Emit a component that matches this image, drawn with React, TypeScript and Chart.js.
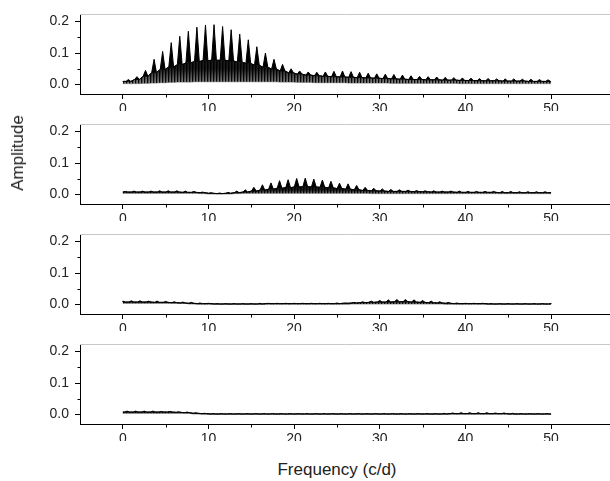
import React, { useEffect, useRef } from "react";
import { Chart, registerables } from "chart.js";

Chart.register(...registerables);

// ---------- data ----------
const FREQ = Array.from({ length: 51 }, (_, k) => k); // alias-comb orders 0..50 (c/d)
const X_TICKS = [0, 10, 20, 30, 40, 50];
const X_MINOR = [5, 15, 25, 35, 45];
const Y_TICKS = [0, 0.1, 0.2];
const Y_MINOR = [0.05, 0.15];
const X_TITLE = "Frequency (c/d)";
const Y_TITLE = "Amplitude";

// Panel 1 (comb peaks near k + 0.65 c/d)
const P1_OFFSET = 0.65;
const P1_PEAK = [0.016, 0.025, 0.045, 0.08, 0.105, 0.133, 0.153, 0.169, 0.182, 0.189, 0.19, 0.184, 0.174, 0.16, 0.142, 0.12, 0.1, 0.08, 0.064, 0.05, 0.043, 0.04, 0.039, 0.04, 0.042, 0.043, 0.041, 0.039, 0.036, 0.034, 0.033, 0.032, 0.03, 0.028, 0.026, 0.025, 0.024, 0.023, 0.022, 0.021, 0.02, 0.019, 0.019, 0.018, 0.018, 0.018, 0.017, 0.017, 0.016, 0.015, 0.014];
const P1_TOP = [0.01, 0.016, 0.026, 0.038, 0.048, 0.056, 0.063, 0.069, 0.073, 0.076, 0.077, 0.077, 0.075, 0.071, 0.067, 0.061, 0.055, 0.049, 0.043, 0.037, 0.033, 0.03, 0.028, 0.026, 0.025, 0.024, 0.023, 0.022, 0.021, 0.02, 0.019, 0.018, 0.017, 0.016, 0.016, 0.015, 0.015, 0.014, 0.014, 0.013, 0.013, 0.012, 0.012, 0.012, 0.011, 0.011, 0.011, 0.01, 0.01, 0.01, 0.009];
const P1_LOW = [0.003, 0.003, 0.004, 0.005, 0.006, 0.007, 0.008, 0.008, 0.009, 0.009, 0.009, 0.009, 0.009, 0.009, 0.009, 0.009, 0.009, 0.009, 0.008, 0.008, 0.007, 0.007, 0.006, 0.006, 0.006, 0.006, 0.005, 0.005, 0.005, 0.005, 0.005, 0.004, 0.004, 0.004, 0.004, 0.004, 0.004, 0.004, 0.004, 0.003, 0.003, 0.003, 0.003, 0.003, 0.003, 0.003, 0.003, 0.003, 0.003, 0.003, 0.003];

// Panel 2 (comb peaks near k + 0.3 c/d)
const P2_OFFSET = 0.3;
const P2_PEAK = [0.01, 0.011, 0.011, 0.011, 0.012, 0.012, 0.012, 0.011, 0.01, 0.008, 0.006, 0.005, 0.007, 0.011, 0.015, 0.023, 0.031, 0.037, 0.044, 0.047, 0.051, 0.052, 0.049, 0.046, 0.042, 0.036, 0.034, 0.029, 0.023, 0.02, 0.018, 0.016, 0.015, 0.014, 0.013, 0.012, 0.012, 0.011, 0.011, 0.011, 0.01, 0.01, 0.01, 0.01, 0.01, 0.01, 0.009, 0.009, 0.009, 0.009, 0.008];
const P2_TOP = [0.008, 0.008, 0.008, 0.008, 0.008, 0.008, 0.008, 0.007, 0.007, 0.006, 0.004, 0.003, 0.004, 0.006, 0.008, 0.011, 0.014, 0.017, 0.02, 0.022, 0.024, 0.025, 0.024, 0.023, 0.021, 0.019, 0.017, 0.015, 0.013, 0.012, 0.011, 0.01, 0.01, 0.01, 0.009, 0.009, 0.008, 0.008, 0.008, 0.007, 0.007, 0.007, 0.007, 0.007, 0.006, 0.006, 0.006, 0.006, 0.006, 0.006, 0.006];
const P2_LOW = [0.004, 0.004, 0.004, 0.004, 0.004, 0.004, 0.004, 0.004, 0.004, 0.003, 0.002, 0.002, 0.002, 0.003, 0.004, 0.004, 0.004, 0.004, 0.004, 0.004, 0.004, 0.004, 0.004, 0.004, 0.004, 0.004, 0.004, 0.004, 0.004, 0.003, 0.003, 0.003, 0.003, 0.003, 0.003, 0.003, 0.003, 0.003, 0.003, 0.003, 0.003, 0.003, 0.003, 0.003, 0.003, 0.003, 0.003, 0.003, 0.003, 0.003, 0.003];

// Panel 3 (comb peaks near k c/d)
const P3_OFFSET = 0;
const P3_PEAK = [0.011, 0.012, 0.012, 0.011, 0.011, 0.01, 0.009, 0.008, 0.007, 0.005, 0.004, 0.003, 0.003, 0.003, 0.003, 0.003, 0.004, 0.004, 0.004, 0.004, 0.004, 0.004, 0.004, 0.004, 0.004, 0.005, 0.005, 0.007, 0.009, 0.011, 0.013, 0.015, 0.016, 0.016, 0.015, 0.013, 0.011, 0.009, 0.007, 0.005, 0.004, 0.004, 0.004, 0.003, 0.003, 0.003, 0.003, 0.003, 0.003, 0.003, 0.003];
const P3_TOP = [0.008, 0.008, 0.008, 0.008, 0.007, 0.007, 0.006, 0.005, 0.004, 0.003, 0.003, 0.002, 0.002, 0.002, 0.002, 0.002, 0.002, 0.003, 0.003, 0.003, 0.003, 0.003, 0.003, 0.003, 0.003, 0.003, 0.004, 0.005, 0.006, 0.007, 0.008, 0.008, 0.009, 0.009, 0.008, 0.007, 0.006, 0.005, 0.004, 0.003, 0.003, 0.003, 0.003, 0.002, 0.002, 0.002, 0.002, 0.002, 0.002, 0.002, 0.002];
const P3_LOW = [0.004, 0.004, 0.004, 0.004, 0.004, 0.004, 0.004, 0.004, 0.002, 0.001, 0.001, 0.001, 0.001, 0.001, 0.001, 0.001, 0.001, 0.001, 0.001, 0.001, 0.001, 0.001, 0.001, 0.001, 0.001, 0.001, 0.001, 0.002, 0.002, 0.002, 0.002, 0.002, 0.002, 0.002, 0.002, 0.002, 0.002, 0.002, 0.001, 0.001, 0.001, 0.001, 0.001, 0.001, 0.001, 0.001, 0.001, 0.001, 0.001, 0.001, 0.001];

// Panel 4 (comb peaks near k + 0.5 c/d)
const P4_OFFSET = 0.5;
const P4_PEAK = [0.011, 0.011, 0.011, 0.011, 0.01, 0.01, 0.009, 0.008, 0.006, 0.004, 0.003, 0.003, 0.003, 0.003, 0.003, 0.003, 0.003, 0.003, 0.003, 0.003, 0.003, 0.003, 0.003, 0.003, 0.003, 0.003, 0.003, 0.003, 0.003, 0.003, 0.003, 0.003, 0.003, 0.003, 0.003, 0.003, 0.003, 0.004, 0.005, 0.006, 0.006, 0.006, 0.006, 0.005, 0.005, 0.004, 0.003, 0.003, 0.003, 0.003, 0.003];
const P4_TOP = [0.008, 0.008, 0.008, 0.008, 0.008, 0.008, 0.007, 0.006, 0.004, 0.003, 0.002, 0.002, 0.002, 0.002, 0.002, 0.002, 0.002, 0.002, 0.002, 0.002, 0.002, 0.002, 0.002, 0.002, 0.002, 0.002, 0.002, 0.002, 0.002, 0.002, 0.002, 0.002, 0.002, 0.002, 0.002, 0.002, 0.002, 0.002, 0.003, 0.003, 0.003, 0.003, 0.003, 0.003, 0.003, 0.002, 0.002, 0.002, 0.002, 0.002, 0.002];
const P4_LOW = [0.004, 0.004, 0.004, 0.004, 0.004, 0.004, 0.004, 0.004, 0.002, 0.001, 0.001, 0.001, 0.001, 0.001, 0.001, 0.001, 0.001, 0.001, 0.001, 0.001, 0.001, 0.001, 0.001, 0.001, 0.001, 0.001, 0.001, 0.001, 0.001, 0.001, 0.001, 0.001, 0.001, 0.001, 0.001, 0.001, 0.001, 0.001, 0.001, 0.001, 0.001, 0.001, 0.001, 0.001, 0.001, 0.001, 0.001, 0.001, 0.001, 0.001, 0.001];

const PANELS = [
  { offset: P1_OFFSET, peak: P1_PEAK, top: P1_TOP, low: P1_LOW },
  { offset: P2_OFFSET, peak: P2_PEAK, top: P2_TOP, low: P2_LOW },
  { offset: P3_OFFSET, peak: P3_PEAK, top: P3_TOP, low: P3_LOW },
  { offset: P4_OFFSET, peak: P4_PEAK, top: P4_TOP, low: P4_LOW },
];

// ---------- styling / layout ----------
const F_MIN = 0;
const F_MAX = 50;
const X_MIN = -5;
const X_MAX = 57;
const Y_MIN = -0.0299;
const Y_MAX = 0.2225;
const SPIKE_HALF_WIDTH = 0.28;
const PANEL_STEP = 110;
const CANVAS_W = 616;
const CANVAS_H = 125;
const FONT = '"Liberation Sans", Arial, Helvetica, sans-serif';

type Pt = { x: number; y: number };

function buildSeries(p: typeof PANELS[number]) {
  const spikes: Pt[] = [];
  const tops: Pt[] = [];
  const lows: Pt[] = [];
  const push = (x: number, pk: number, tp: number, lo: number) => {
    if (x < F_MIN || x > F_MAX) return;
    spikes.push({ x, y: pk });
    tops.push({ x, y: tp });
    lows.push({ x, y: lo });
  };
  push(F_MIN, p.top[0], p.top[0], p.low[0]);
  FREQ.forEach((k) => {
    const f = k + p.offset;
    push(f - SPIKE_HALF_WIDTH, p.top[k], p.top[k], p.low[k]);
    push(f, p.peak[k], p.top[k], p.low[k]);
    push(f + SPIKE_HALF_WIDTH, p.top[k], p.top[k], p.low[k]);
  });
  const last = FREQ.length - 1;
  push(F_MAX, p.top[last], p.top[last], p.low[last]);
  return { spikes, tops, lows };
}

// striped fill imitating the densely oscillating periodogram trace
function makeBandPattern(chart: any, darkFrom: number) {
  const ys = chart.scales.y;
  const c = document.createElement("canvas");
  c.width = 3;
  c.height = CANVAS_H;
  const g = c.getContext("2d")!;
  const yTop = ys.getPixelForValue(darkFrom);
  const yBot = ys.getPixelForValue(0);
  const cols = [
    ["#000000", "#0a0a0a"],
    ["#101010", "#6a6a6a"],
    ["#1e1e1e", "#8e8e8e"],
  ];
  cols.forEach(([a, b], i) => {
    const grad = g.createLinearGradient(0, yTop, 0, yBot);
    grad.addColorStop(0, a);
    grad.addColorStop(1, b);
    g.fillStyle = grad;
    g.fillRect(i, 0, 1, CANVAS_H);
  });
  return chart.ctx.createPattern(c, "repeat");
}

const framePlugin = {
  id: "frame",
  afterDraw(chart: any) {
    const { ctx, chartArea, scales } = chart;
    ctx.save();
    ctx.strokeStyle = "#c8c8c8";
    ctx.lineWidth = 1;
    ctx.beginPath();
    ctx.moveTo(chartArea.left, Math.round(chartArea.top) + 0.5);
    ctx.lineTo(chartArea.right, Math.round(chartArea.top) + 0.5);
    ctx.stroke();
    ctx.strokeStyle = "#000";
    ctx.beginPath();
    const yb = Math.round(chartArea.bottom) + 0.5;
    X_MINOR.forEach((v) => {
      const px = Math.round(scales.x.getPixelForValue(v)) + 0.5;
      ctx.moveTo(px, yb);
      ctx.lineTo(px, yb + 3);
    });
    const xl = Math.round(chartArea.left) + 0.5;
    Y_MINOR.forEach((v) => {
      const py = Math.round(scales.y.getPixelForValue(v)) + 0.5;
      ctx.moveTo(xl, py);
      ctx.lineTo(xl - 3, py);
    });
    ctx.stroke();
    ctx.restore();
  },
};

function Panel({ index }: { index: number }) {
  const ref = useRef<HTMLCanvasElement | null>(null);
  useEffect(() => {
    if (!ref.current) return;
    const { spikes, tops, lows } = buildSeries(PANELS[index]);
    let pattern: any = null;
    const bandFill = (c: any) => {
      const chart = c.chart;
      if (!chart.chartArea) return "#444";
      if (!pattern) pattern = makeBandPattern(chart, index === 0 ? 0.05 : 0.015);
      return pattern;
    };
    const chart = new Chart(ref.current, {
      type: "line",
      data: {
        datasets: [
          { data: spikes, borderColor: "#000", borderWidth: 1, backgroundColor: "#000", fill: "+1", pointRadius: 0, tension: 0 },
          { data: tops, borderColor: "#0a0a0a", borderWidth: 1, backgroundColor: bandFill, fill: "+1", pointRadius: 0, tension: 0 },
          { data: lows, borderColor: "#6e6e6e", borderWidth: 0.8, fill: false, pointRadius: 0, tension: 0 },
        ],
      },
      options: {
        animation: false,
        responsive: false,
        devicePixelRatio: 1,
        layout: { padding: { top: 12, left: 0, right: 5, bottom: 14 } },
        plugins: { legend: { display: false }, tooltip: { enabled: false }, title: { display: false } },
        scales: {
          x: {
            type: "linear",
            min: X_MIN,
            max: X_MAX,
            afterBuildTicks: (s: any) => {
              s.ticks = X_TICKS.map((v) => ({ value: v }));
            },
            afterFit: (s: any) => {
              s.height = 17;
            },
            grid: { display: true, drawOnChartArea: false, drawTicks: true, tickLength: 5, color: "#000", tickColor: "#000" },
            border: { display: true, color: "#000", width: 1 },
            ticks: { autoSkip: false, maxRotation: 0, padding: 2, color: "#222", font: { family: FONT, size: 14 }, callback: (v: any) => String(v) },
          },
          y: {
            type: "linear",
            min: Y_MIN,
            max: Y_MAX,
            afterBuildTicks: (s: any) => {
              s.ticks = Y_TICKS.map((v) => ({ value: v }));
            },
            afterFit: (s: any) => {
              s.width = 80;
            },
            grid: { display: true, drawOnChartArea: false, drawTicks: true, tickLength: 5, color: "#000", tickColor: "#000" },
            border: { display: true, color: "#000", width: 1 },
            ticks: { autoSkip: false, padding: 6, color: "#222", font: { family: FONT, size: 14 }, callback: (v: any) => Number(v).toFixed(1) },
          },
        },
      } as any,
      plugins: [framePlugin],
    });
    return () => chart.destroy();
  }, [index]);
  return (
    <canvas
      ref={ref}
      width={CANVAS_W}
      height={CANVAS_H}
      style={{ position: "absolute", left: 0, top: index * PANEL_STEP, width: CANVAS_W, height: CANVAS_H, display: "block" }}
    />
  );
}

export default function App() {
  return (
    <div style={{ position: "fixed", left: 0, top: 0, width: 610, height: 481, overflow: "hidden", background: "#fff" }}>
      {PANELS.map((_, i) => (
        <Panel key={i} index={i} />
      ))}
      <div
        style={{
          position: "absolute",
          left: 18,
          top: 153,
          transform: "translate(-50%, -50%) rotate(-90deg)",
          font: `17px ${FONT}`,
          color: "#222",
          whiteSpace: "nowrap",
        }}
      >
        {Y_TITLE}
      </div>
      <div
        style={{
          position: "absolute",
          left: 337,
          top: 470,
          transform: "translate(-50%, -50%)",
          font: `17px ${FONT}`,
          color: "#222",
          whiteSpace: "nowrap",
        }}
      >
        {X_TITLE}
      </div>
    </div>
  );
}
